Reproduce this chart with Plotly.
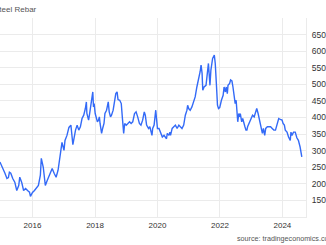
import plotly.graph_objects as go

dates = [
    "2014-12-16", "2015-01-20", "2015-02-13", "2015-03-08", "2015-03-25", "2015-04-06", "2015-04-22",
    "2015-05-15", "2015-06-08", "2015-07-01", "2015-07-24", "2015-08-05", "2015-08-27", "2015-09-19",
    "2015-10-12", "2015-11-04", "2015-11-27", "2015-12-08", "2016-01-01", "2016-01-24", "2016-02-16",
    "2016-03-10", "2016-04-02", "2016-04-13", "2016-05-06", "2016-05-30", "2016-06-21", "2016-07-14",
    "2016-08-18", "2016-09-10", "2016-10-03", "2016-10-26", "2016-11-18", "2016-12-11", "2017-01-03",
    "2017-01-15", "2017-02-07", "2017-03-02", "2017-03-25", "2017-04-17", "2017-05-18", "2017-06-06",
    "2017-06-25", "2017-07-14", "2017-08-02", "2017-08-22", "2017-09-10", "2017-09-22", "2017-09-28",
    "2017-10-18", "2017-10-30", "2017-11-13", "2017-11-25", "2017-12-06", "2017-12-14", "2017-12-22",
    "2018-01-03", "2018-01-14", "2018-01-29", "2018-02-10", "2018-02-21", "2018-03-01", "2018-03-19",
    "2018-03-31", "2018-04-16", "2018-04-27", "2018-05-16", "2018-06-05", "2018-06-16", "2018-07-01",
    "2018-07-13", "2018-08-01", "2018-08-20", "2018-09-01", "2018-09-16", "2018-09-27", "2018-10-17",
    "2018-11-04", "2018-11-16", "2018-11-24", "2018-12-02", "2018-12-14", "2019-01-01", "2019-01-21",
    "2019-02-09", "2019-02-27", "2019-03-18", "2019-04-08", "2019-04-26", "2019-05-15", "2019-06-04",
    "2019-06-22", "2019-07-12", "2019-07-31", "2019-08-12", "2019-08-27", "2019-09-19", "2019-10-04",
    "2019-10-29", "2019-11-06", "2019-11-23", "2019-12-12", "2019-12-23", "2020-01-01", "2020-01-19",
    "2020-02-08", "2020-02-27", "2020-03-18", "2020-04-05", "2020-04-16", "2020-04-25", "2020-05-14",
    "2020-05-26", "2020-06-02", "2020-06-21", "2020-07-11", "2020-07-29", "2020-08-18", "2020-09-07",
    "2020-09-25", "2020-10-14", "2020-11-03", "2020-11-22", "2020-12-11", "2020-12-19", "2020-12-31",
    "2021-01-18", "2021-02-07", "2021-02-27", "2021-03-17", "2021-04-06", "2021-04-25", "2021-05-14",
    "2021-05-25", "2021-06-06", "2021-06-14", "2021-06-29", "2021-07-22", "2021-08-07", "2021-08-19",
    "2021-08-30", "2021-09-06", "2021-09-17", "2021-09-26", "2021-10-07", "2021-10-27", "2021-11-07",
    "2021-11-22", "2021-12-03", "2021-12-15", "2021-12-29", "2022-01-18", "2022-02-07", "2022-02-18",
    "2022-03-05", "2022-03-16", "2022-03-28", "2022-04-05", "2022-04-24", "2022-05-05", "2022-05-21",
    "2022-06-02", "2022-06-13", "2022-06-28", "2022-07-09", "2022-07-20", "2022-07-28", "2022-08-09",
    "2022-08-20", "2022-08-27", "2022-09-12", "2022-09-24", "2022-10-05", "2022-10-20", "2022-11-01",
    "2022-11-12", "2022-11-20", "2022-12-09", "2022-12-28", "2023-01-17", "2023-02-05", "2023-02-24",
    "2023-03-07", "2023-03-23", "2023-04-04", "2023-04-23", "2023-05-12", "2023-05-24", "2023-05-31",
    "2023-06-08", "2023-06-20", "2023-07-09", "2023-07-28", "2023-08-16", "2023-09-04", "2023-09-23",
    "2023-10-12", "2023-11-01", "2023-11-19", "2023-12-08", "2023-12-28", "2024-01-09", "2024-01-24",
    "2024-02-04", "2024-02-24", "2024-03-13", "2024-04-02", "2024-04-10", "2024-04-22", "2024-05-10",
    "2024-05-30", "2024-06-18", "2024-07-06", "2024-07-26", "2024-08-07", "2024-08-15",
]

prices = [
    266, 247, 232, 216, 219, 235, 232,
    216, 205, 180, 195, 220, 205, 180,
    186, 180, 175, 162, 174, 180, 186,
    195, 226, 277, 250, 195, 210, 226,
    246, 232, 220, 241, 280, 325, 301,
    331, 346, 370, 377, 318, 362, 377,
    362, 372, 397, 407, 427, 447, 412,
    392, 412, 442, 472, 477, 432, 442,
    412, 397, 387, 392, 402, 382, 352,
    367, 382, 412, 422, 447, 417, 402,
    407, 422, 452, 472, 477, 454, 452,
    442, 402, 356, 352, 382, 377, 382,
    387, 382, 387, 412, 417, 402, 382,
    377, 392, 417, 407, 377, 367, 372,
    346, 367, 377, 422, 392, 367, 367,
    352, 341, 346, 339, 336, 352, 346,
    356, 346, 367, 372, 377, 367, 377,
    372, 367, 377, 407, 422, 437, 427,
    422, 432, 452, 462, 492, 513, 538,
    558, 533, 482, 492, 497, 543, 563,
    523, 497, 543, 563, 578, 588, 563,
    492, 437, 427, 430, 452, 467, 492,
    477, 492, 472, 497, 503, 513, 510,
    492, 462, 442, 452, 422, 387, 412,
    402, 412, 387, 397, 382, 372, 362,
    362, 372, 382, 397, 407, 402, 417,
    427, 412, 397, 377, 352, 367, 356,
    346, 367, 372, 372, 372, 367, 362,
    362, 382, 397, 394, 392, 382, 377,
    362, 356, 341, 331, 356, 346, 356,
    356, 339, 331, 311, 296, 281,
]

y_ticks = [100, 150, 200, 250, 300, 350, 400, 450, 500, 550, 600, 650, 700]
y_labels = ["", "150", "200", "250", "300", "350", "400", "450", "500", "550", "600", "650", ""]

x_range = ["2014-12-17", "2024-10-03"]

FONT = "Liberation Sans, Arial, sans-serif"
GRID = "#ebebeb"

fig = go.Figure(
    go.Scatter(
        x=dates, y=prices, mode="lines",
        line=dict(color="#336af7", width=1.4),
        hoverinfo="skip",
    )
)

fig.update_layout(
    width=326, height=245,
    margin=dict(l=0, r=15, t=18, b=28),
    paper_bgcolor="white", plot_bgcolor="white",
    showlegend=False,
    xaxis=dict(
        type="date", range=x_range,
        tick0="2016-01-01", dtick="M24", tickformat="%Y",
        showgrid=True, gridcolor=GRID, gridwidth=1,
        zeroline=False, showline=True, linecolor=GRID, linewidth=1,
        ticks="", tickfont=dict(family=FONT, size=8, color="#333333"),
    ),
    yaxis=dict(
        range=[100, 700], side="right",
        tickvals=y_ticks, ticktext=y_labels,
        showgrid=True, gridcolor=GRID, gridwidth=1,
        zeroline=False, showline=True, linecolor=GRID, linewidth=1, mirror=False,
        ticks="", ticklabelstandoff=3,
        tickfont=dict(family=FONT, size=8.5, color="#333333"),
    ),
    annotations=[
        dict(text="Steel Rebar", xref="paper", yref="paper", x=-0.025, y=1.045,
             xanchor="left", yanchor="middle", showarrow=False,
             font=dict(family=FONT, size=8, color="#555555")),
        dict(text="source: tradingeconomics.com", xref="paper", yref="paper", x=0.768, y=-0.11,
             xanchor="left", yanchor="middle", showarrow=False,
             font=dict(family=FONT, size=7.2, color="#555555")),
    ],
)

fig.write_html("out.html")
